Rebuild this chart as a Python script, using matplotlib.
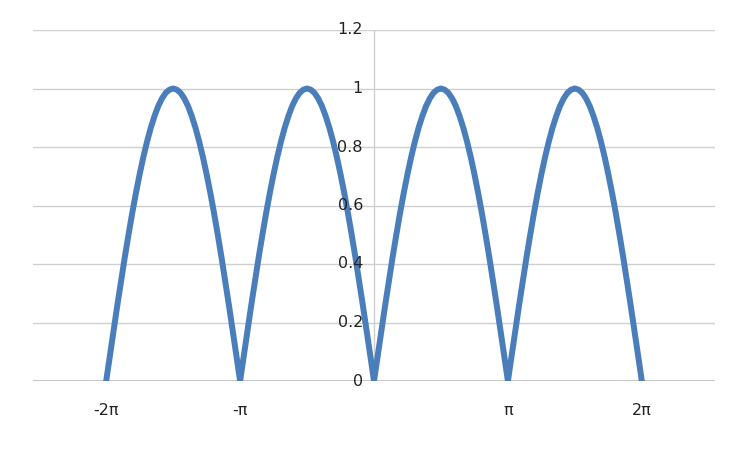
import numpy as np
import matplotlib
matplotlib.use("Agg")
import matplotlib.pyplot as plt
from matplotlib.transforms import blended_transform_factory, offset_copy

# x in steps of pi/36 from -2pi to 2pi, y
x_steps = list(range(-72, 73))
quarter = [0, 0.087, 0.174, 0.259, 0.342, 0.423, 0.5, 0.574, 0.643, 0.707,
           0.766, 0.819, 0.866, 0.906, 0.940, 0.966, 0.985, 0.996, 1.0]
hump = quarter + quarter[-2::-1]          # 37 points, 0..pi
y_vals = hump + hump[1:] + hump[1:] + hump[1:]

x_ticks = [-2 * np.pi, -np.pi, np.pi, 2 * np.pi]
x_labels = ["-2\u03c0", "-\u03c0", "\u03c0", "2\u03c0"]
y_ticks = [0, 0.2, 0.4, 0.6, 0.8, 1, 1.2]
y_labels = ["0", "0.2", "0.4", "0.6", "0.8", "1", "1.2"]

x_vals = [k * np.pi / 36 for k in x_steps]

fig = plt.figure(figsize=(7.41, 4.51), dpi=100)
ax = fig.add_axes([33 / 741, 1 - 381 / 451, (715 - 33) / 741, (381 - 30) / 451])

for yt in y_ticks[1:]:
    ax.axhline(yt, color="#cfcfcf", lw=1, zorder=1)
ax.axhline(0, color="#c0c0c0", lw=1.3, zorder=1)
ax.axvline(0, color="#cfcfcf", lw=1, zorder=1)

ax.plot(x_vals, y_vals, color="#4a7ebb", lw=4.3, solid_joinstyle="round", zorder=3)

ax.set_xlim(-8, 8)
ax.set_ylim(0, 1.2)
for s in ax.spines.values():
    s.set_visible(False)

ax.set_xticks(x_ticks)
ax.set_xticklabels(x_labels, fontsize=11.5, color="#222222")
ax.tick_params(axis="x", length=0, pad=16)
ax.set_yticks([])

trans = blended_transform_factory(ax.transData, ax.transData)
trans = offset_copy(trans, fig=fig, x=-8, y=0, units="points")
for yt, lab in zip(y_ticks, y_labels):
    ax.text(0, yt, lab, transform=trans, ha="right", va="center",
            fontsize=11.5, color="#222222")

fig.savefig("out.png", dpi=100)
